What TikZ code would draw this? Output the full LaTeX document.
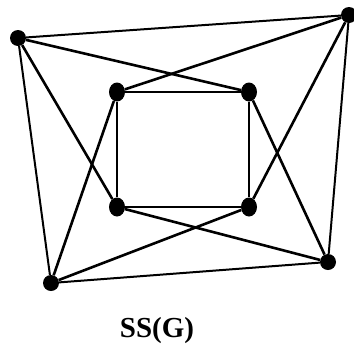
\documentclass[tikz,border=0pt]{standalone}
\usepackage{fontspec}
\setmainfont{Liberation Serif}
\usepackage{tikz}
\usetikzlibrary{shapes.geometric}

\begin{document}
\begin{tikzpicture}[
  x=1pt, y=-1pt,
  outv/.style={circle, fill=black, inner sep=0pt, minimum size=16pt},
  inv/.style={ellipse, fill=black, inner sep=0pt, minimum width=16pt, minimum height=19pt},
  rim/.style={line width=2pt},
  cross/.style={line width=2.6pt},
  sq/.style={line width=2.8pt}
]
\useasboundingbox (0,0) rectangle (354,349);

\node[outv] (a) at (18,38) {};
\node[outv] (b) at (349,15) {};
\node[outv] (c) at (328,262) {};
\node[outv] (d) at (51,283) {};

\node[inv] (p) at (117,92) {};
\node[inv] (q) at (249,92) {};
\node[inv] (r) at (249,207) {};
\node[inv] (s) at (117,207) {};

\draw[rim] (a) -- (b) -- (c) -- (d) -- (a);
\draw[sq] (p) -- (q) -- (r) -- (s) -- (p);

\draw[cross] (a) -- (q);
\draw[cross] (a) -- (s);
\draw[cross] (b) -- (p);
\draw[cross] (b) -- (r);
\draw[cross] (c) -- (q);
\draw[cross] (c) -- (s);
\draw[cross] (d) -- (p);
\draw[cross] (d) -- (r);

\node[font=\fontsize{29}{32}\selectfont\bfseries] (lbl) at (157,331) {SS(G)};

\end{tikzpicture}
\end{document}
